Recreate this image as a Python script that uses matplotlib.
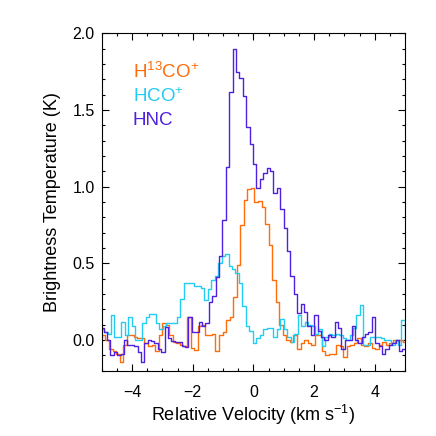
import matplotlib
matplotlib.use('Agg')
import matplotlib.pyplot as plt
import numpy as np
from matplotlib.ticker import MultipleLocator, FormatStrFormatter

# ---- spectral axes: centre of first channel and channel width (km/s) ----
hnc_v0, hnc_dv = -4.996, 0.112
hco_v0, hco_dv = -4.979, 0.114
h13_v0, h13_dv = -5.054, 0.117

# ---- brightness temperatures (K), one value per channel ----
hnc_T = [0.08, 0.05, 0.0, -0.10, -0.08, -0.095, -0.09, 0.0, -0.03, -0.03,
         -0.04, -0.08, -0.145, -0.02, 0.0, -0.005, -0.02, -0.06, -0.075, 0.087,
         0.012, -0.005, -0.01, -0.014, -0.04, -0.045, 0.153, 0.055, 0.055, 0.12,
         0.094, 0.11, 0.25, 0.29, 0.41, 0.55, 0.78, 1.13, 1.62,
         1.90,
         1.75, 1.71, 1.59, 1.39, 1.28, 1.15, 0.99, 1.05, 1.09, 1.12,
         1.10, 0.96, 0.99, 0.855, 0.73, 0.58, 0.42, 0.30, 0.175, 0.235,
         0.18, 0.09, 0.03, 0.16, 0.06, 0.02, 0.0, 0.03, 0.02, 0.12,
         0.08, -0.06, 0.0, 0.0, 0.09, 0.0, -0.02, 0.02, 0.04, 0.05,
         0.15, -0.02, -0.04, -0.09, -0.06, -0.03, -0.02, 0.0, -0.07, -0.06]

hco_T = [0.07, 0.05, 0.04, 0.16, 0.02, 0.02, 0.12, 0.03, 0.15, 0.09,
         0.0, 0.0, 0.11, 0.15, 0.17, 0.17, 0.11, 0.07, 0.09, 0.11,
         0.11, 0.11, 0.15, 0.27, 0.37, 0.37, 0.37, 0.35, 0.35, 0.34,
         0.26, 0.33, 0.39, 0.42, 0.50, 0.55,
         0.56,
         0.48, 0.46, 0.44, 0.37, 0.22, 0.09, 0.06, -0.02, 0.01, 0.03,
         0.07, 0.08, 0.08, 0.02, 0.07, 0.14, 0.07, 0.02, -0.01, 0.04,
         0.16, 0.09, 0.12, 0.10, 0.09, 0.04, 0.07, -0.04, 0.02, 0.04,
         0.03, 0.04, 0.03, 0.01, 0.0, 0.03, 0.08, 0.16, 0.23, -0.03,
         -0.03, 0.02, 0.02, 0.02, 0.01, 0.0, 0.0, -0.03, 0.0, -0.03, 0.13, 0.0]

h13_T = [0.01, 0.03, 0.0, -0.06, -0.07, -0.09, -0.145, -0.03, 0.03, 0.03,
         0.02, 0.01, 0.01, -0.02, -0.04, -0.03, -0.07, 0.03, 0.11, 0.10,
         0.03, -0.01, -0.02, -0.03, -0.04, 0.15, -0.05, -0.065, 0.09, 0.10,
         0.03, 0.03, 0.04, -0.07, 0.03, 0.05, 0.13, 0.15, 0.28, 0.49, 0.75, 0.91,
         0.983,
         0.99, 0.90, 0.907, 0.87, 0.755, 0.62, 0.39, 0.25, 0.10, 0.03,
         0.0, -0.01, 0.03, -0.06, -0.02, 0.0, -0.02, -0.03, 0.03, 0.03,
         -0.07, -0.10, -0.09, -0.09, -0.03, -0.04, -0.11, -0.04, -0.03, -0.02,
         0.01, -0.03, -0.04, -0.02, -0.05, -0.06, -0.03, -0.01, -0.03, -0.02,
         0.0, 0.0, 0.0, -0.01]

labels = ['H$^{\\mathregular{13}}$CO$^{\\mathregular{+}}$', 'HCO$^{\\mathregular{+}}$', 'HNC']
colors = ['#FF6C0A', '#22CCF2', '#5020E0']

xlim = (-5, 5)
ylim = (-0.2, 2.0)
xticks = [-4, -2, 0, 2, 4]
yticks = [0.0, 0.5, 1.0, 1.5, 2.0]

plt.rcParams['font.family'] = ['Liberation Sans', 'DejaVu Sans']
plt.rcParams['mathtext.default'] = 'regular'
plt.rcParams['mathtext.fontset'] = 'custom'
plt.rcParams['mathtext.rm'] = 'Liberation Sans'

fig = plt.figure(figsize=(4.36, 4.36), dpi=100)
ax = fig.add_axes([0.2333, 0.1498, 0.6956, 0.7739])

series = [(h13_v0, h13_dv, h13_T), (hco_v0, hco_dv, hco_T), (hnc_v0, hnc_dv, hnc_T)]
for (v0, dv, T), c in zip(series, colors):
    T = np.asarray(T)
    v = v0 + dv * np.arange(len(T))
    ax.step(v, T, where='mid', color=c, lw=1.0)

ax.set_xlim(*xlim)
ax.set_ylim(*ylim)
ax.set_xticks(xticks)
ax.set_yticks(yticks)
ax.yaxis.set_major_formatter(FormatStrFormatter('%.1f'))
ax.xaxis.set_minor_locator(MultipleLocator(0.5))
ax.yaxis.set_minor_locator(MultipleLocator(0.1))
ax.tick_params(which='both', direction='in', top=True, right=True, width=0.8,
               labelsize=11.5, colors='black')
ax.tick_params(which='major', length=5)
ax.tick_params(which='minor', length=2.5)
ax.tick_params(axis='x', which='major', pad=10.5)
ax.tick_params(axis='y', which='major', pad=5)
for s in ax.spines.values():
    s.set_linewidth(0.8)

ax.set_xlabel('Relative Velocity (km s$^{\\mathregular{-1}}$)', fontsize=13, labelpad=2)
ax.set_ylabel('Brightness Temperature (K)', fontsize=13, labelpad=8)

for i, (lab, c) in enumerate(zip(labels, colors)):
    ax.text(0.102, 0.867 - 0.0695 * i, lab, color=c, fontsize=13.5,
            transform=ax.transAxes, ha='left', va='baseline')

fig.savefig('out.png', dpi=100)
